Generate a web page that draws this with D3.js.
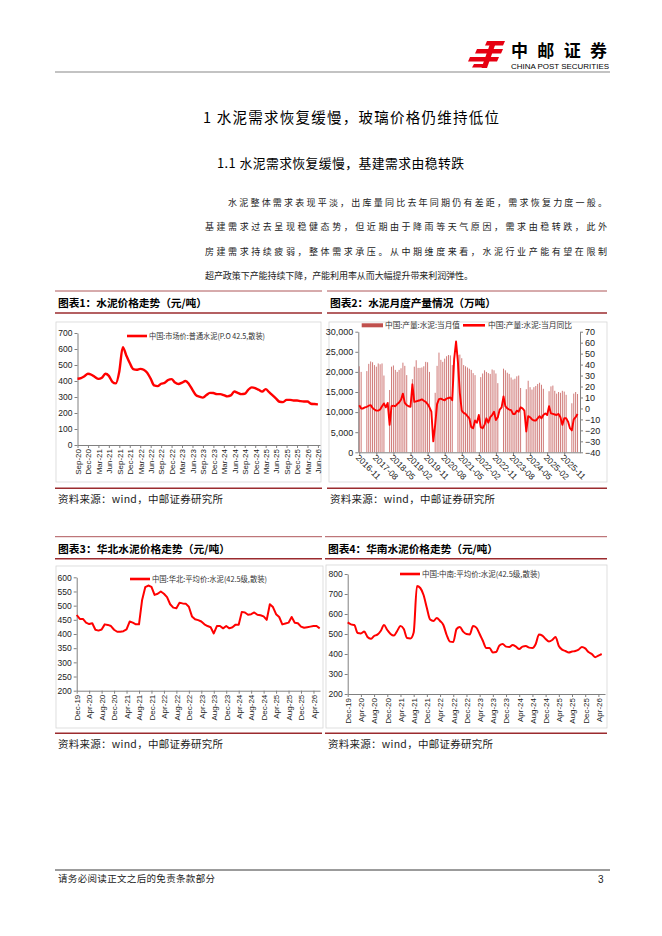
<!DOCTYPE html>
<html>
<head>
<meta charset="utf-8">
<script src="https://cdn.jsdelivr.net/npm/d3@7"></script>
<style>
body { margin: 0; background: #fff; }
svg { display: block; }
</style>
</head>
<body>
<div id="page"></div>
<script>
var WIDTH = 662, HEIGHT = 936;
var CN_FONT = '"Noto Sans CJK SC", sans-serif';
var NUM_FONT = '"Liberation Sans", Arial, sans-serif';
var DARK_RED = '#9b2b2e';
var LINE_RED = '#ff0000';
var BAR_COLOR = '#c0504d';
var AXIS_GRAY = '#808080';

// ---- chart 1: national cement price (monthly, Sep-20 ..)
var nationalTicks = ['Sep-20', 'Dec-20', 'Mar-21', 'Jun-21', 'Sep-21', 'Dec-21', 'Mar-22', 'Jun-22',
    'Sep-22', 'Dec-22', 'Mar-23', 'Jun-23', 'Sep-23', 'Dec-23', 'Mar-24', 'Jun-24', 'Sep-24',
    'Dec-24', 'Mar-25', 'Jun-25', 'Sep-25', 'Dec-25', 'Mar-26', 'Jun-26'];
var nationalPrice = [414, 418, 430, 445, 439, 425, 413, 420, 445, 432,
    395, 385, 460, 612, 560, 512, 474, 470, 476, 470,
    452, 415, 372, 368, 383, 388, 406, 412, 390, 381,
    390, 400, 380, 345, 312, 302, 296, 312, 326, 325,
    318, 318, 312, 304, 310, 334, 326, 318, 320, 345,
    360, 356, 345, 334, 349, 330, 310, 290, 270, 268,
    282, 282, 278, 278, 274, 272, 272, 258, 256, 254];

// ---- chart 2: monthly cement output (10k t) and YoY (%), Nov-16 ..
var outputTicks = ['2016-11', '2017-08', '2018-05', '2019-02', '2019-11', '2020-08', '2021-05',
    '2022-02', '2022-11', '2023-08', '2024-05', '2025-02', '2025-11'];
var outputMonthly = [21400, 20000, null, null,
    20200, 22000, 22600, 22400, 21700, 21300, 22100, 21900, 22100, 19100, null, null,
    15500, 21300, 21600, 20500, 20000, 20500, 20900, 22300, 21500, 19200, null, null,
    18200, 21300, 22900, 21000, 21000, 21100, 21400, 22500, 22400, 20000, null, null,
    14800, 21500, 24800, 23000, 22500, 23300, 23900, 24200, 24100, 21700, null, null,
    24200, 24300, 23400, 21700, 21400, 21100, 20800, 20500, 19700, 19200, null, null,
    18700, 19600, 20400, 20000, 19700, 19500, 20600, 20400, 19600, 17200, null, null,
    20800, 20400, 19800, 19500, 18600, 18100, 18300, 18900, 19100, 16000, null, null,
    15700, 17800, 16200, 15600, 16200, 16500, 17000, 17300, 16800, 15800, null, null,
    15200, 16400, 16600, 15300, 14600, 15000, 14800, 15300, 15100, 14300, null, null,
    12200, 14600, 15000, 14500];
var outputYoy = [3, 0, 0, 1, 1.5, 2.5, 3, 0.5, -1, -2,
    -2, -1, 2, 4.6, 1, 5, -15, 2, 2.5, 2,
    4, 5.5, 8, 13.5, 5, 3, 2, 1.5, 22, 6,
    6.5, 7, 7.5, 8.3, 7, 6, 4, 1, -3, -30,
    -15, 4, 8.5, 9, 8, 7.5, 9, 9.5, 10, 7.5,
    45, 61, 42, 14, -2, -4, -5, -7, -9, -17,
    -18, -11, -13, -6, -17, -18, -15, -9, -13, -8,
    -6, -3, -10.5, -8, -1, 1, 11, 2, 0, -1,
    -1.5, -5, -5, -2, -3, 1, 0, -2, -21, -7,
    -8, -10, -11, -11, -9, -7, -9, -6, -4.5, -6,
    2, -4.5, -5, -5.5, -6, -5, -8, -15, -9, -9,
    -12, -18, -20, -10, -8, -5];

// ---- charts 3 and 4: regional prices (monthly, Dec-19 ..)
var regionTicks = ['Dec-19', 'Apr-20', 'Aug-20', 'Dec-20', 'Apr-21', 'Aug-21', 'Dec-21', 'Apr-22',
    'Aug-22', 'Dec-22', 'Apr-23', 'Aug-23', 'Dec-23', 'Apr-24', 'Aug-24', 'Dec-24', 'Apr-25',
    'Aug-25', 'Dec-25', 'Apr-26'];
var northPrice = [467, 453, 453, 440, 435, 438, 415, 412, 416, 434,
    432, 428, 415, 408, 408, 410, 416, 444, 440, 434,
    434, 520, 565, 571, 566, 538, 542, 550, 542, 530,
    505, 493, 491, 510, 508, 507, 496, 462, 452, 449,
    444, 434, 428, 424, 402, 428, 428, 420, 428, 420,
    424, 433, 433, 478, 476, 468, 470, 476, 468, 466,
    462, 450, 505, 495, 470, 460, 434, 437, 440, 460,
    440, 438, 426, 422, 424, 426, 428, 428, 420];
var southPrice = [558, 548, 545, 505, 503, 512, 485, 476, 490, 497,
    515, 545, 520, 500, 492, 515, 540, 525, 480, 478,
    508, 740, 730, 695, 630, 572, 565, 580, 565, 545,
    495, 462, 460, 525, 535, 512, 500, 498, 540, 532,
    500, 465, 430, 430, 408, 410, 443, 450, 437, 435,
    445, 437, 425, 437, 440, 432, 430, 450, 498, 492,
    475, 463, 470, 485, 440, 422, 415, 408, 412, 415,
    422, 435, 428, 410, 400, 384, 392, 400];

var paragraph = [
    '水泥整体需求表现平淡，出库量同比去年同期仍有差距，需求恢复力度一般。',
    '基建需求过去呈现稳健态势，但近期由于降雨等天气原因，需求由稳转跌，此外',
    '房建需求持续疲弱，整体需求承压。从中期维度来看，水泥行业产能有望在限制',
    '超产政策下产能持续下降，产能利用率从而大幅提升带来利润弹性。'
];

var svg = d3.select('#page').append('svg')
    .attr('width', WIDTH)
    .attr('height', HEIGHT);

/**
 * Put one line of text on the page.
 */
var addText = function addText(x, y, str, size, opts) {
    opts = opts || {};
    var t = svg.append('text')
        .attr('x', x)
        .attr('y', y)
        .attr('dy', '0.36em')
        .attr('fill', opts.color || '#000')
        .attr('text-anchor', opts.anchor || 'start')
        .style('font-family', opts.font || CN_FONT)
        .style('font-size', size + 'px')
        .style('font-weight', opts.bold ? 'bold' : 'normal')
        .text(str);
    if (opts.len) {
        t.attr('textLength', opts.len).attr('lengthAdjust', opts.adjust || 'spacing');
    }
    return t;
};

var hLine = function hLine(x1, x2, y, color, w) {
    svg.append('line')
        .attr('x1', x1).attr('x2', x2)
        .attr('y1', y).attr('y2', y)
        .attr('stroke', color)
        .attr('stroke-width', w);
};

// ---- header
var logo = svg.append('g').attr('fill', '#e60012');
logo.append('path').attr('d', 'M487,41 L505,41 L503,45.5 L485,45.5 Z');
logo.append('path').attr('d', 'M477,49 L503,49 L501,53.5 L475,53.5 Z');
logo.append('path').attr('d', 'M470,57 L499,57 L497,61.5 L468,61.5 Z');
logo.append('path').attr('d', 'M491,41 L496.5,41 L487,68 L481.5,68 Z');
logo.append('path').attr('d', 'M474,64 L486,64 L485,67.5 L472,67.5 Z');
addText(511, 51, '中邮证券', 17, {bold: true, len: 96});
addText(511, 66, 'CHINA POST SECURITIES', 7.6, {font: NUM_FONT, len: 98, adjust: 'spacingAndGlyphs'});
hLine(55, 610, 72, '#555', 0.7);

// ---- headings and body
addText(203, 118, '1 水泥需求恢复缓慢，玻璃价格仍维持低位', 14.5, {len: 296});
addText(217, 163, '1.1 水泥需求恢复缓慢，基建需求由稳转跌', 12.8, {len: 247});
var paraY = [202.5, 227, 251.5, 275.5];
var paraX = [228, 205, 205, 205];
var paraLen = [379, 402, 402, 268];
paragraph.forEach(function(line, i) {
    addText(paraX[i], paraY[i], line, 9, {color: '#222', len: paraLen[i]});
});

// ---- footer
hLine(55, 610, 870, '#222', 0.9);
addText(58, 879, '请务必阅读正文之后的免责条款部分', 9.5, {color: '#222', len: 157});
addText(598, 879, '3', 10, {font: NUM_FONT, color: '#222'});

/**
 * Title bar, picture frame and source line of one chart block.
 */
var drawBlock = function drawBlock(b) {
    hLine(b.x1, b.x2, b.top, DARK_RED, 0.8);
    addText(b.x1 + 3, b.top + 12, b.title, 10.75, {bold: true, len: b.titleLen});
    hLine(b.x1, b.x2, b.top + 22, DARK_RED, 1.6);
    svg.append('rect')
        .attr('x', b.fx1).attr('y', b.frameTop)
        .attr('width', b.fx2 - b.fx1).attr('height', b.frameBottom - b.frameTop)
        .attr('fill', 'none')
        .attr('stroke', '#d6d6d6')
        .attr('stroke-width', 0.8);
    hLine(b.x1, b.x2, b.srcLine, DARK_RED, 1.6);
    addText(b.x1 + 3, b.srcLine + 11, '资料来源：wind，中邮证券研究所', 10.5, {color: '#222', len: 165});
};

drawBlock({x1: 55, x2: 322, top: 291, title: '图表1：水泥价格走势（元/吨）', titleLen: 149,
    fx1: 56, fx2: 321, frameTop: 322, frameBottom: 482, srcLine: 488.3});
drawBlock({x1: 327, x2: 607, top: 291, title: '图表2：水泥月度产量情况（万吨）', titleLen: 166,
    fx1: 329, fx2: 607, frameTop: 322, frameBottom: 482, srcLine: 488.3});
drawBlock({x1: 55, x2: 322, top: 536.7, title: '图表3：华北水泥价格走势（元/吨）', titleLen: 172,
    fx1: 56, fx2: 323, frameTop: 566, frameBottom: 728, srcLine: 733.3});
drawBlock({x1: 325, x2: 607, top: 536.7, title: '图表4：华南水泥价格走势（元/吨）', titleLen: 170,
    fx1: 326, fx2: 607, frameTop: 565, frameBottom: 728, srcLine: 733.3});

var styleAxis = function styleAxis(g, size) {
    g.attr('font-family', NUM_FONT).attr('font-size', size);
    g.select('.domain').attr('stroke', AXIS_GRAY);
    g.selectAll('.tick line').attr('stroke', AXIS_GRAY);
    g.selectAll('.tick text').attr('fill', '#222');
};

var rotateUp = function rotateUp(g) {
    g.selectAll('.tick text')
        .attr('transform', 'rotate(-90)')
        .attr('text-anchor', 'end')
        .attr('x', -4)
        .attr('y', 0)
        .attr('dy', '0.35em');
};

var drawLegendLine = function drawLegendLine(x1, x2, y, label, len) {
    hLine(x1, x2, y, LINE_RED, 2.6);
    addText(x2 + 2, y, label, 7.8, {color: '#333', len: len, adjust: 'spacingAndGlyphs'});
};

/**
 * Single red price line with monthly x index.
 */
var drawPriceChart = function drawPriceChart(c) {
    var x = d3.scaleLinear().domain(c.xDomain).range(c.xRange);
    var y = d3.scaleLinear().domain(c.yDomain).range(c.yRange);
    var g = svg.append('g');

    var gy = g.append('g')
        .attr('transform', 'translate(' + c.xRange[0] + ',0)')
        .call(d3.axisLeft(y).tickValues(d3.range(c.yDomain[0], c.yDomain[1] + 1, c.yStep))
            .tickSize(3).tickSizeOuter(0).tickPadding(2));
    styleAxis(gy, 8.5);

    var gx = g.append('g')
        .attr('transform', 'translate(0,' + c.yRange[0] + ')')
        .call(d3.axisBottom(x)
            .tickValues(c.ticks.map(function(d, i) { return i * c.tickStep; }))
            .tickFormat(function(d, i) { return c.ticks[i]; })
            .tickSize(3).tickSizeOuter(0));
    styleAxis(gx, 8);
    rotateUp(gx);

    var line = d3.line()
        .x(function(d, i) { return x(i); })
        .y(function(d) { return y(d); })
        .curve(c.curve);

    g.append('path')
        .datum(c.values)
        .attr('d', line)
        .attr('fill', 'none')
        .attr('stroke', LINE_RED)
        .attr('stroke-width', c.width)
        .attr('stroke-linejoin', 'round');

    drawLegendLine(c.legend[0], c.legend[1], c.legend[2], c.label, c.legend[3]);
};

drawPriceChart({
    values: nationalPrice, ticks: nationalTicks, tickStep: 3,
    xDomain: [0, 69.6], xRange: [77.5, 320],
    yDomain: [0, 700], yRange: [445, 333], yStep: 100,
    curve: d3.curveMonotoneX, width: 2.4,
    label: '中国:市场价:普通水泥(P.O 42.5,散装)', legend: [127, 147, 336, 116]
});

drawPriceChart({
    values: northPrice, ticks: regionTicks, tickStep: 4,
    xDomain: [0, 78.1], xRange: [76.7, 320],
    yDomain: [200, 600], yRange: [690.7, 577.3], yStep: 50,
    curve: d3.curveLinear, width: 2,
    label: '中国:华北:平均价:水泥(42.5级,散装)', legend: [130, 150, 579, 115]
});

drawPriceChart({
    values: southPrice, ticks: regionTicks, tickStep: 4,
    xDomain: [0, 78], xRange: [347.7, 605],
    yDomain: [200, 800], yRange: [694, 574], yStep: 100,
    curve: d3.curveMonotoneX, width: 2,
    label: '中国:中南:平均价:水泥(42.5级,散装)', legend: [400, 420, 574, 118]
});

// ---- chart 2: bars (left axis) + YoY line (right axis)
var drawOutputChart = function drawOutputChart() {
    var x = d3.scaleLinear().domain([-0.5, 116.3]).range([358.3, 580]);
    var yL = d3.scaleLinear().domain([0, 30000]).range([452.3, 331.7]);
    var yR = d3.scaleLinear().domain([-40, 70]).range([452.3, 331.7]);
    var g = svg.append('g');

    var bars = outputMonthly
        .map(function(v, i) { return {m: i, v: v}; })
        .filter(function(d) { return d.v !== null; });

    g.append('g').selectAll('rect')
        .data(bars)
        .enter()
        .append('rect')
            .attr('x', function(d) { return x(d.m) - 0.5; })
            .attr('y', function(d) { return yL(d.v); })
            .attr('width', 1)
            .attr('height', function(d) { return yL(0) - yL(d.v); })
            .attr('fill', BAR_COLOR)
            .attr('fill-opacity', 0.75);

    var gl = g.append('g')
        .attr('transform', 'translate(358.3,0)')
        .call(d3.axisLeft(yL).tickValues(d3.range(0, 30001, 5000))
            .tickSize(3).tickSizeOuter(0).tickPadding(2));
    styleAxis(gl, 9);

    var gr = g.append('g')
        .attr('transform', 'translate(580,0)')
        .call(d3.axisRight(yR).tickValues(d3.range(-40, 71, 10))
            .tickSize(3).tickSizeOuter(0).tickPadding(2));
    styleAxis(gr, 9);

    var gx = g.append('g')
        .attr('transform', 'translate(0,452.3)')
        .call(d3.axisBottom(x)
            .tickValues(outputTicks.map(function(d, i) { return i * 9; }))
            .tickFormat(function(d, i) { return outputTicks[i]; })
            .tickSize(3).tickSizeOuter(0));
    styleAxis(gx, 8.6);
    gx.selectAll('.tick text')
        .attr('transform', 'rotate(45)')
        .attr('text-anchor', 'start')
        .attr('x', 1)
        .attr('y', 0)
        .attr('dy', '0.85em');

    var line = d3.line()
        .x(function(d, i) { return x(i); })
        .y(function(d) { return yR(d); });

    g.append('path')
        .datum(outputYoy)
        .attr('d', line)
        .attr('fill', 'none')
        .attr('stroke', LINE_RED)
        .attr('stroke-width', 1.9)
        .attr('stroke-linejoin', 'round');

    // legend
    svg.append('rect')
        .attr('x', 361.7).attr('y', 323.3)
        .attr('width', 21.3).attr('height', 4)
        .attr('fill', BAR_COLOR);
    addText(385, 325.3, '中国:产量:水泥:当月值', 7.8, {color: '#333', len: 75, adjust: 'spacingAndGlyphs'});
    hLine(463, 485, 325.3, LINE_RED, 2.6);
    addText(488, 325.3, '中国:产量:水泥:当月同比', 7.8, {color: '#333', len: 84, adjust: 'spacingAndGlyphs'});
};

drawOutputChart();
</script>
</body>
</html>
